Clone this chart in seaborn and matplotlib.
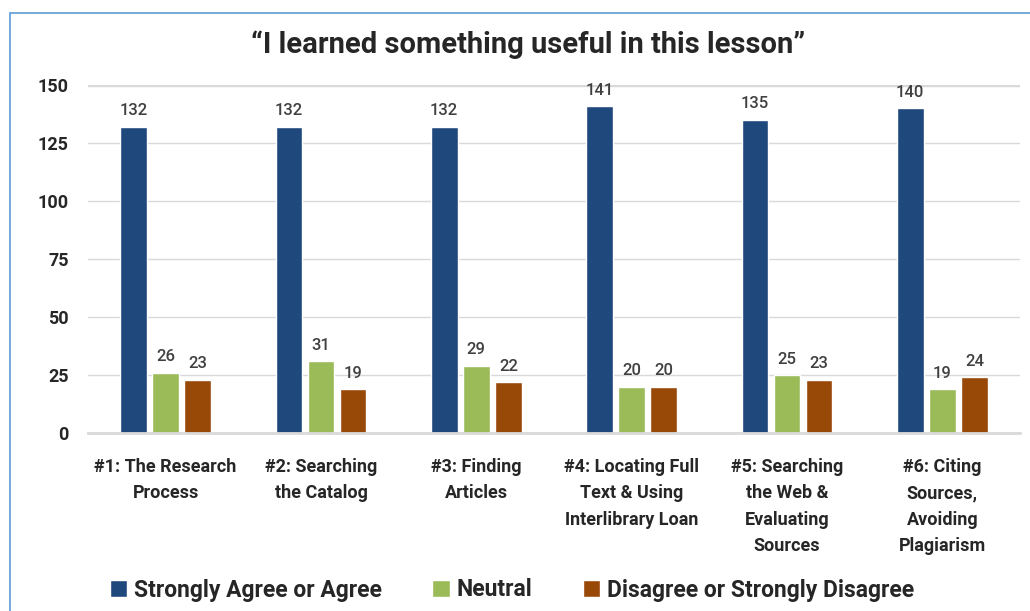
import pandas as pd
import matplotlib.pyplot as plt
import seaborn as sns
from matplotlib.patches import Rectangle

lessons = ["#1: The Research\nProcess", "#2: Searching\nthe Catalog", "#3: Finding\nArticles",
           "#4: Locating Full\nText & Using\nInterlibrary Loan",
           "#5: Searching\nthe Web &\nEvaluating\nSources",
           "#6: Citing\nSources,\nAvoiding\nPlagiarism"]
groups = ["Strongly Agree or Agree", "Neutral", "Disagree or Strongly Disagree"]
agree = [132, 132, 132, 141, 135, 140]
neutral = [26, 31, 29, 20, 25, 19]
disagree = [23, 19, 22, 20, 23, 24]

COLOURS = ["#1F497D", "#9BBB59", "#984807"]

df = pd.DataFrame({
    'lesson': lessons * 3,
    'response': [g for g in groups for _ in lessons],
    'count': agree + neutral + disagree,
})

sns.set_style('white')
plt.rcParams['font.family'] = ['Roboto', 'DejaVu Sans']

fig = plt.figure(figsize=(10.3, 6.11), dpi=100)
ax = fig.add_axes([88 / 1030, 1 - 433 / 611, (1020 - 88) / 1030, 348 / 611])

sns.barplot(data=df, x='lesson', y='count', hue='response', palette=COLOURS,
            saturation=1, width=0.62, gap=0.17, ax=ax, legend=True)

for cont in ax.containers:
    ax.bar_label(cont, padding=6, fontsize=12, color='#404040', fontweight='medium')

ax.set_ylim(0, 150)
ax.set_yticks([0, 25, 50, 75, 100, 125, 150])
ax.set_xlim(-0.5, 5.5)
ax.grid(axis='y', color='#d9d9d9', linewidth=1)
ax.set_axisbelow(True)
for s in ['left', 'right', 'top']:
    ax.spines[s].set_visible(False)
ax.spines['bottom'].set_color('#d9d9d9')
ax.spines['bottom'].set_linewidth(2)
ax.axhline(150, color='#d9d9d9', linewidth=2.5, zorder=0)
ax.tick_params(axis='y', length=0, labelsize=13, pad=14)
ax.tick_params(axis='x', length=0, labelsize=13, pad=18)
for lab in ax.get_yticklabels() + ax.get_xticklabels():
    lab.set_fontweight('bold')
for lab in ax.get_xticklabels():
    lab.set_linespacing(1.6)
ax.set_xlabel('')
ax.set_ylabel('')

handles, labels = ax.get_legend_handles_labels()
ax.legend_.remove()
fig.legend(handles, labels, loc='center', bbox_to_anchor=(0.497, 1 - 590 / 611), ncol=3,
           frameon=False, prop={'weight': 'bold', 'size': 16.5}, handlelength=0.75,
           handleheight=0.75, handletextpad=0.3, columnspacing=2.2)

fig.text(0.513, 1 - 45 / 611, '\u201cI learned something useful in this lesson\u201d',
         ha='center', va='center', fontsize=21, fontweight='bold')

fig.patches.append(Rectangle((10 / 1030, -0.05), 1.1, 1 - 13 / 611 + 0.05,
                             transform=fig.transFigure, fill=False,
                             edgecolor='#5B9BD5', linewidth=1.2))

fig.savefig('out.png', dpi=100)
